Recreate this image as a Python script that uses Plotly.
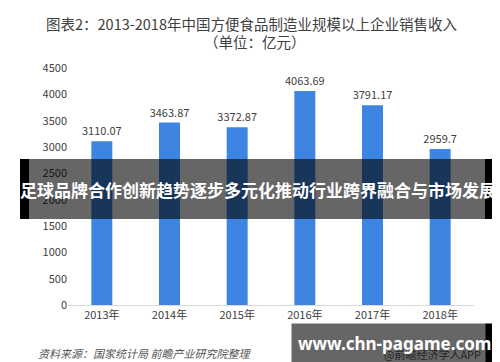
import plotly.graph_objects as go

years = ["2013年", "2014年", "2015年", "2016年", "2017年", "2018年"]
sales = [3110.07, 3463.87, 3372.87, 4063.69, 3791.17, 2959.7]
labels = ["3110.07", "3463.87", "3372.87", "4063.69", "3791.17", "2959.7"]
y_ticks = [0, 500, 1000, 1500, 2000, 2500, 3000, 3500, 4000, 4500]

W, H = 500, 362
L, R, T, B = 60, 34, 60, 65
PW, PH = W - L - R, H - T - B

def px(x):
    return (x - L) / PW

def py(y):
    return (H - B - y) / PH

FONT = "Noto Sans CJK SC, Microsoft YaHei, sans-serif"

fig = go.Figure()
fig.add_trace(go.Bar(
    x=years, y=sales, text=labels, textposition="outside", constraintext="none",
    textfont=dict(size=11, color="#404040", family=FONT),
    marker=dict(color="#3d85e0", line=dict(width=0)),
    cliponaxis=False, width=0.31,
))

shapes = [
    dict(type="rect", xref="paper", yref="paper", x0=px(12), x1=px(489), y0=py(211), y1=py(151),
         fillcolor="rgba(0,0,0,0.6)", line=dict(width=0), layer="above"),
    dict(type="rect", xref="paper", yref="paper", x0=px(12), x1=px(21), y0=py(211), y1=py(151),
         fillcolor="black", line=dict(width=0), layer="above"),
    dict(type="rect", xref="paper", yref="paper", x0=px(477), x1=px(489), y0=py(211), y1=py(151),
         fillcolor="black", line=dict(width=0), layer="above"),
]

annotations = [
    dict(text="图表2：2013-2018年中国方便食品制造业规模以上企业销售收入",
         xref="paper", yref="paper", x=px(243), y=py(15), xanchor="center", yanchor="middle",
         showarrow=False, font=dict(size=14.5, color="#404040", family=FONT)),
    dict(text="（单位：亿元）",
         xref="paper", yref="paper", x=px(247), y=py(33), xanchor="center", yanchor="middle",
         showarrow=False, font=dict(size=14.5, color="#404040", family=FONT)),
    dict(text="<b>足球品牌合作创新趋势逐步多元化推动行业跨界融合与市场发展</b>",
         xref="paper", yref="paper", x=px(250), y=py(181), xanchor="center", yanchor="middle",
         showarrow=False, font=dict(size=17, color="white", family="Noto Sans CJK SC")),
    dict(text="<i>资料来源：国家统计局 前瞻产业研究院整理</i>",
         xref="paper", yref="paper", x=px(28), y=py(345), xanchor="left", yanchor="middle",
         showarrow=False, font=dict(size=11, color="#555555", family=FONT)),
    dict(text="@前瞻经济学人APP",
         xref="paper", yref="paper", x=px(475), y=py(346), xanchor="right", yanchor="middle",
         showarrow=False, font=dict(size=11, color="#606060", family=FONT)),
    dict(text="", xref="paper", yref="paper", x=px(283), y=py(315), xanchor="left", yanchor="top",
         width=194, height=38, bgcolor="rgba(0,0,0,0.6)", borderpad=0, showarrow=False),
    dict(text="", xref="paper", yref="paper", x=px(477), y=py(315), xanchor="left", yanchor="top",
         width=13, height=38, bgcolor="black", borderpad=0, showarrow=False),
    dict(text="<b>www.chn-pagame.com</b>",
         xref="paper", yref="paper", x=px(386), y=py(335), xanchor="center", yanchor="middle",
         showarrow=False, font=dict(size=17, color="white", family="Noto Sans, sans-serif")),
]

fig.update_layout(
    width=W, height=H, margin=dict(l=L, r=R, t=T, b=B),
    paper_bgcolor="white", plot_bgcolor="white",
    showlegend=False,
    font=dict(family=FONT),
    shapes=shapes, annotations=annotations,
    xaxis=dict(showline=True, linecolor="#d9d9d9", linewidth=1, ticks="", showgrid=False,
               tickfont=dict(size=11, color="#404040", family=FONT)),
    yaxis=dict(range=[0, 4500], tickvals=y_ticks, showgrid=False, zeroline=False, showline=False,
               ticks="", tickfont=dict(size=11, color="#404040", family=FONT)),
)

fig.write_html("out.html")
